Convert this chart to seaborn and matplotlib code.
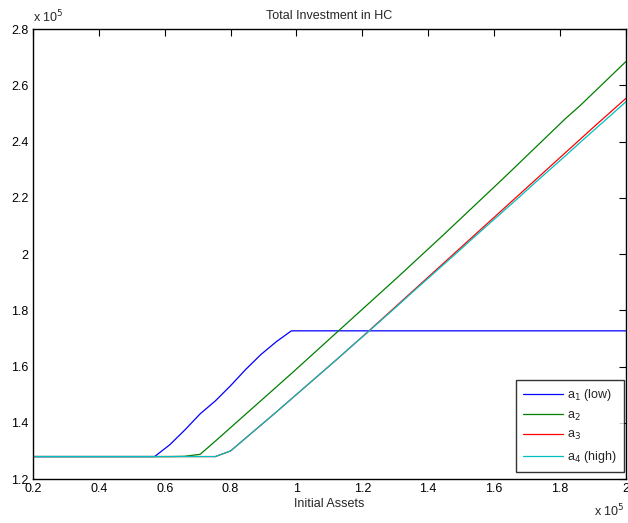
import numpy as np
import matplotlib
matplotlib.use("Agg")
import matplotlib.pyplot as plt
import matplotlib.ticker as mticker
import seaborn as sb
import pandas as pd

# initial assets grid (in units of 1e5), 40 points from 0.2 to 2
assets = np.linspace(0.2, 2.0, 40)

# total investment in HC (in units of 1e5)
a1 = [1.28] * 9 + [1.322, 1.375, 1.432, 1.478, 1.532, 1.590, 1.643, 1.688, 1.727] + [1.727] * 22
a2 = [1.28] * 10 + [1.281, 1.288, 1.335, 1.383, 1.431, 1.479, 1.527, 1.575, 1.624, 1.673,
                    1.722, 1.771, 1.820, 1.869, 1.918, 1.968, 2.018, 2.068, 2.119, 2.170,
                    2.221, 2.272, 2.324, 2.376, 2.428, 2.480, 2.528, 2.580, 2.632, 2.684]
a3 = [1.28] * 13 + [1.300, 1.346, 1.392, 1.438, 1.485, 1.532, 1.579, 1.626, 1.674, 1.722,
                    1.771, 1.820, 1.869, 1.918, 1.967, 2.016, 2.065, 2.114, 2.163, 2.212,
                    2.261, 2.310, 2.359, 2.408, 2.457, 2.505, 2.553]
a4 = [1.28] * 13 + [1.300, 1.346, 1.392, 1.438, 1.485, 1.532, 1.579, 1.626, 1.674, 1.721,
                    1.769, 1.817, 1.866, 1.914, 1.962, 2.010, 2.059, 2.107, 2.155, 2.203,
                    2.252, 2.300, 2.348, 2.397, 2.445, 2.493, 2.541]

labels = ["a$_1$ (low)", "a$_2$", "a$_3$", "a$_4$ (high)"]
colors = ["#0000ff", "#008000", "#ff0000", "#00bfbf"]
scale = 1e5

df = pd.DataFrame({
    "assets": np.tile(assets, 4) * scale,
    "hc": np.concatenate([a1, a2, a3, a4]) * scale,
    "type": np.repeat(labels, len(assets)),
})

sb.set_style("white")
plt.rcParams["font.family"] = ["Liberation Sans", "DejaVu Sans"]
plt.rcParams["font.size"] = 9

fig = plt.figure(figsize=(6.28, 5.23), dpi=100)
ax = fig.add_axes([0.0525, 0.084, 0.944, 0.8605])

sb.lineplot(data=df, x="assets", y="hc", hue="type", palette=colors,
            linewidth=0.9, ax=ax, legend=True)

ax.set_xlim(0.2 * scale, 2.0 * scale)
ax.set_ylim(1.2 * scale, 2.8 * scale)
ax.set_xticks(np.arange(0.2, 2.01, 0.2) * scale)
ax.set_yticks(np.arange(1.2, 2.81, 0.2) * scale)
fmt = mticker.FuncFormatter(lambda v, p: "%g" % round(v / scale, 2))
ax.xaxis.set_major_formatter(fmt)
ax.yaxis.set_major_formatter(fmt)
ax.tick_params(direction="in", length=5, width=0.8, top=True, right=True,
               labelsize=9, colors="black", pad=3)
for s in ax.spines.values():
    s.set_color("black")
    s.set_linewidth(1.0)

ax.set_title("Total Investment in HC", fontsize=9, pad=7)
ax.set_xlabel("Initial Assets", fontsize=9, labelpad=2)
ax.set_ylabel("")
ax.text(0.0, 1.008, "x 10$^5$", transform=ax.transAxes, ha="left", va="bottom", fontsize=9)
ax.text(0.998, -0.053, "x 10$^5$", transform=ax.transAxes, ha="right", va="top", fontsize=9)

leg = ax.legend(loc="lower right", bbox_to_anchor=(0.997, 0.016), borderaxespad=0,
                frameon=True, fancybox=False, edgecolor="black", fontsize=9,
                handlelength=3.2, handletextpad=0.35, borderpad=0.55, labelspacing=0.52)
leg.get_frame().set_linewidth(1.0)

fig.savefig("out.png", dpi=100)
